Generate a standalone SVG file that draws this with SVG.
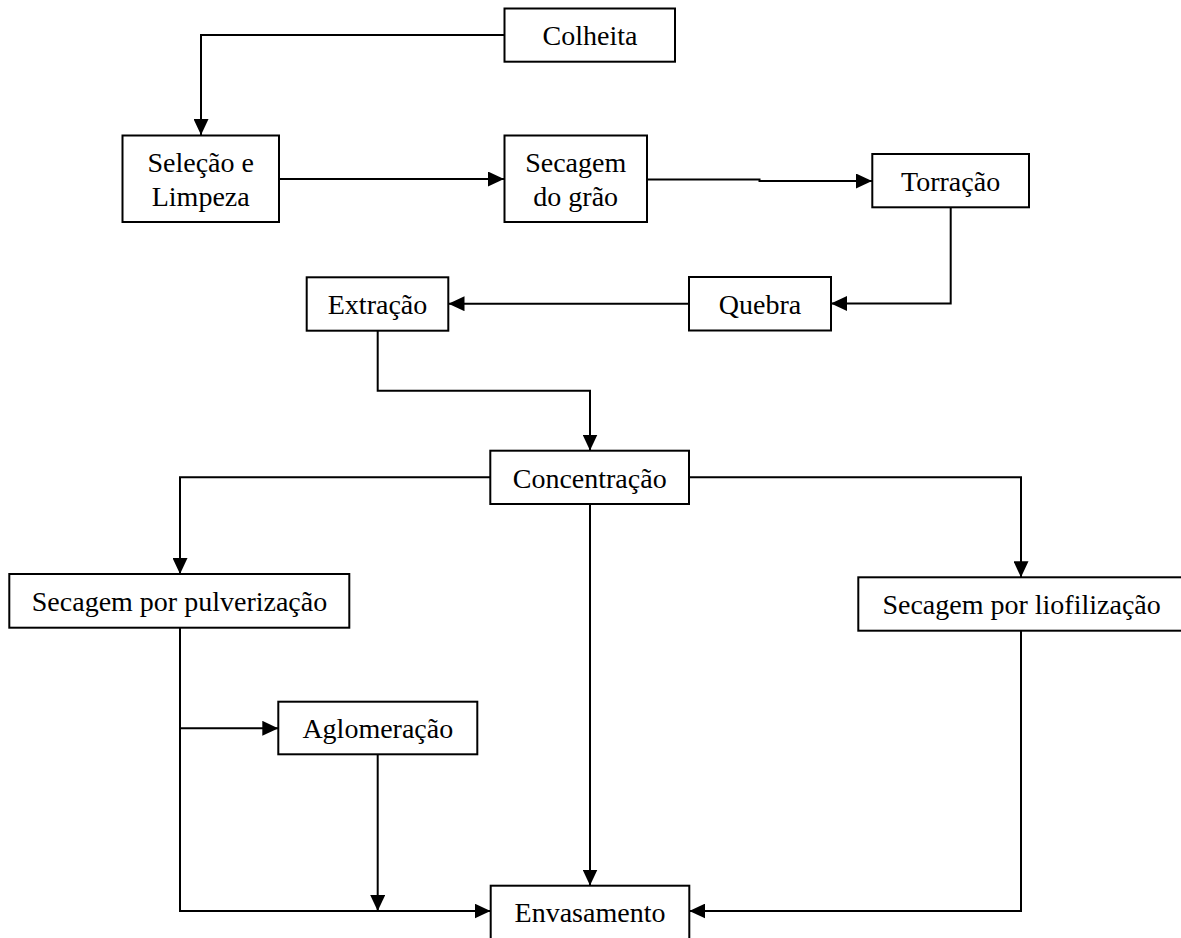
<svg xmlns="http://www.w3.org/2000/svg" width="1181" height="938" viewBox="0 0 1181 938">
<style>
.box{fill:#fff;stroke:#000;stroke-width:2}
.lbl{font-family:"Liberation Serif","Times New Roman",serif;font-size:28px;fill:#000;text-anchor:middle}
.con{fill:none;stroke:#000;stroke-width:2}
</style>
<defs>
<marker id="arr" markerUnits="userSpaceOnUse" markerWidth="16" markerHeight="15" refX="16" refY="7.5" orient="auto">
<path d="M0,0 L16,7.5 L0,15 z" fill="#000"/>
</marker>
</defs>
<rect width="1181" height="938" fill="#fff"/>
<g id="connectors">
<path class="con" d="M504.5,35 H201 V135" marker-end="url(#arr)"/>
<path class="con" d="M279,179 H504" marker-end="url(#arr)"/>
<path class="con" d="M647,179.5 H759.5 V181 H872" marker-end="url(#arr)"/>
<path class="con" d="M950.7,207.3 V303.5 H831" marker-end="url(#arr)"/>
<path class="con" d="M689,303.7 H448.5" marker-end="url(#arr)"/>
<path class="con" d="M377.7,330.7 V390.7 H590 V450.5" marker-end="url(#arr)"/>
<path class="con" d="M490.3,477.3 H180 V574" marker-end="url(#arr)"/>
<path class="con" d="M689,477.3 H1021 V577.3" marker-end="url(#arr)"/>
<path class="con" d="M590,504 V885.5" marker-end="url(#arr)"/>
<path class="con" d="M180,627.7 V911 H490.5" marker-end="url(#arr)"/>
<path class="con" d="M180,728.3 H278.3" marker-end="url(#arr)"/>
<path class="con" d="M377.7,754.3 V911" marker-end="url(#arr)"/>
<path class="con" d="M1021,630.7 V911 H689.3" marker-end="url(#arr)"/>
</g>
<g id="colheita"><rect class="box" x="504.5" y="8.5" width="170.5" height="53.2"/><text class="lbl" x="590" y="45">Colheita</text></g>
<g id="selecao"><rect class="box" x="122.5" y="135.5" width="156.5" height="86.5"/><text class="lbl" x="200.7" y="172">Seleção e</text><text class="lbl" x="200.7" y="206">Limpeza</text></g>
<g id="secagem-grao"><rect class="box" x="504.5" y="135.5" width="142.5" height="86.5"/><text class="lbl" x="575.7" y="172">Secagem</text><text class="lbl" x="575.7" y="206">do grão</text></g>
<g id="torracao"><rect class="box" x="872.3" y="154" width="156.7" height="53.3"/><text class="lbl" x="950.6" y="191">Torração</text></g>
<g id="quebra"><rect class="box" x="689" y="277" width="142" height="53.5"/><text class="lbl" x="760" y="313.5">Quebra</text></g>
<g id="extracao"><rect class="box" x="306.7" y="277.3" width="141.6" height="53.4"/><text class="lbl" x="377.5" y="314">Extração</text></g>
<g id="concentracao"><rect class="box" x="490.3" y="450.7" width="198.7" height="53.3"/><text class="lbl" x="589.7" y="487.5">Concentração</text></g>
<g id="secagem-pulverizacao"><rect class="box" x="9.3" y="574" width="340" height="53.7"/><text class="lbl" x="179.5" y="610.5">Secagem por pulverização</text></g>
<g id="secagem-liofilizacao"><rect class="box" x="858.3" y="577.3" width="326" height="53.4"/><text class="lbl" x="1021.6" y="614">Secagem por liofilização</text></g>
<g id="aglomeracao"><rect class="box" x="278.3" y="701.7" width="199" height="52.6"/><text class="lbl" x="377.8" y="738">Aglomeração</text></g>
<g id="envasamento"><rect class="box" x="490.7" y="885.7" width="198.6" height="53.4"/><text class="lbl" x="590" y="922">Envasamento</text></g>
</svg>
